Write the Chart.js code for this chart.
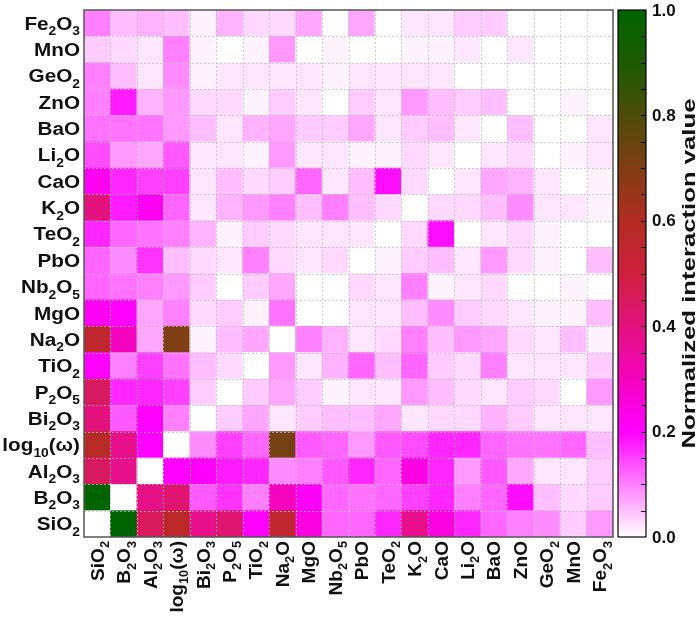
<!DOCTYPE html>
<html>
<head>
<meta charset="utf-8">
<script src="https://cdn.jsdelivr.net/npm/chart.js@4.4.0/dist/chart.umd.min.js"></script>
<style>
html, body { margin: 0; padding: 0; background: #fff; }
#wrap { width: 699px; height: 622px; }
</style>
</head>
<body>
<div id="wrap"><canvas id="heatChart"></canvas></div>
<script>
// oxide labels, same order on both axes (x: left to right, y: bottom to top)
const oxides = ['SiO2', 'B2O3', 'Al2O3', 'log10(ω)', 'Bi2O3', 'P2O5', 'TiO2', 'Na2O', 'MgO', 'Nb2O5',
    'PbO', 'TeO2', 'K2O', 'CaO', 'Li2O', 'BaO', 'ZnO', 'GeO2', 'MnO', 'Fe2O3'];

// one row per oxide, values in column order
const rowSiO2  = [0, 1.0, 0.45, 0.57, 0.38, 0.42, 0.2, 0.55, 0.25, 0.12, 0.12, 0.17, 0.38, 0.25, 0.17, 0.12, 0.1, 0.09, 0.04, 0.08];
const rowB2O3  = [1.0, 0, 0.39, 0.42, 0.13, 0.16, 0.1, 0.3, 0.21, 0.12, 0.11, 0.12, 0.15, 0.17, 0.1, 0.12, 0.19, 0.05, 0.03, 0.04];
const rowAl2O3 = [0.45, 0.38, 0, 0.2, 0.21, 0.18, 0.17, 0.09, 0.1, 0.13, 0.17, 0.12, 0.24, 0.17, 0.08, 0.13, 0.07, 0.02, 0.02, 0.04];
const rowLog   = [0.58, 0.38, 0.2, 0, 0.09, 0.15, 0.12, 0.72, 0.13, 0.12, 0.08, 0.13, 0.14, 0.17, 0.17, 0.12, 0.11, 0.11, 0.12, 0.05];
const rowBi2O3 = [0.4, 0.13, 0.2, 0.1, 0, 0.04, 0.07, 0.02, 0.04, 0.05, 0.05, 0.07, 0.02, 0.03, 0.03, 0.06, 0.04, 0.02, 0.02, 0.02];
const rowP2O5  = [0.45, 0.17, 0.17, 0.15, 0.04, 0, 0.04, 0.07, 0.04, 0.01, 0.02, 0.02, 0.08, 0.05, 0.03, 0.02, 0.04, 0.03, 0, 0.08];
const rowTiO2  = [0.2, 0.1, 0.15, 0.11, 0.05, 0.03, 0, 0.08, 0.02, 0.06, 0.12, 0.05, 0.12, 0.04, 0.03, 0.1, 0.02, 0.02, 0.02, 0.04];
const rowNa2O  = [0.55, 0.3, 0.07, 0.7, 0.01, 0.05, 0.07, 0, 0.1, 0.06, 0.02, 0.03, 0.1, 0.05, 0.08, 0.07, 0.03, 0.02, 0.05, 0.01];
const rowMgO   = [0.22, 0.2, 0.07, 0.1, 0.03, 0.04, 0.01, 0.11, 0, 0, 0.02, 0.02, 0.05, 0.09, 0.04, 0.03, 0.02, 0.01, 0.01, 0.05];
const rowNb2O5 = [0.12, 0.11, 0.1, 0.08, 0.04, 0, 0.04, 0.07, 0, 0, 0.03, 0.02, 0.1, 0.01, 0.02, 0.03, 0, 0, 0.01, 0];
const rowPbO   = [0.12, 0.09, 0.16, 0.05, 0.03, 0.02, 0.1, 0.03, 0.02, 0.03, 0, 0.01, 0.04, 0.05, 0.02, 0.08, 0.03, 0.01, 0, 0.05];
const rowTeO2  = [0.17, 0.12, 0.11, 0.1, 0.06, 0.01, 0.04, 0.03, 0.02, 0.02, 0.02, 0, 0.03, 0.19, 0, 0.02, 0.03, 0.01, 0, 0];
const rowK2O   = [0.4, 0.18, 0.22, 0.12, 0.02, 0.06, 0.08, 0.1, 0.05, 0.1, 0.05, 0.03, 0, 0.03, 0.03, 0.05, 0.09, 0.02, 0.02, 0.01];
const rowCaO   = [0.22, 0.17, 0.15, 0.15, 0.02, 0.05, 0.03, 0.04, 0.12, 0.02, 0.05, 0.19, 0.03, 0, 0.02, 0.07, 0.06, 0.02, 0, 0.01];
const rowLi2O  = [0.14, 0.08, 0.07, 0.13, 0.02, 0.02, 0.01, 0.08, 0.02, 0.02, 0.01, 0.01, 0.03, 0.02, 0, 0.02, 0.03, 0, 0.01, 0.02];
const rowBaO   = [0.11, 0.11, 0.11, 0.08, 0.05, 0.02, 0.06, 0.07, 0.04, 0.04, 0.07, 0.02, 0.04, 0.05, 0.02, 0, 0.05, 0, 0, 0.02];
const rowZnO   = [0.1, 0.18, 0.06, 0.08, 0.03, 0.03, 0.01, 0.04, 0.02, 0, 0.04, 0.02, 0.08, 0.05, 0.04, 0.05, 0, 0, 0.01, 0];
const rowGeO2  = [0.1, 0.05, 0.02, 0.09, 0.01, 0.02, 0.02, 0.02, 0.02, 0.01, 0.02, 0.02, 0.02, 0.02, 0, 0, 0, 0, 0, 0];
const rowMnO   = [0.04, 0.03, 0.02, 0.1, 0.01, 0, 0.01, 0.08, 0, 0.01, 0, 0, 0.01, 0.01, 0.02, 0, 0.02, 0, 0, 0];
const rowFe2O3 = [0.1, 0.05, 0.06, 0.05, 0.01, 0.06, 0.03, 0.03, 0.07, 0, 0.07, 0, 0.02, 0.02, 0.04, 0.04, 0, 0, 0, 0];

// bottom to top, matching oxides
const rows = [rowSiO2, rowB2O3, rowAl2O3, rowLog, rowBi2O3, rowP2O5, rowTiO2, rowNa2O, rowMgO, rowNb2O5,
    rowPbO, rowTeO2, rowK2O, rowCaO, rowLi2O, rowBaO, rowZnO, rowGeO2, rowMnO, rowFe2O3];

const colorbarTicks = [0, 0.2, 0.4, 0.6, 0.8, 1.0];
const colorbarTitle = 'Normalized interaction value';

// white -> magenta -> crimson -> brown -> dark green
const cmap = [
    [0.0, [255, 255, 255]],
    [0.2, [255, 0, 255]],
    [0.3, [244, 4, 190]],
    [0.4, [228, 18, 125]],
    [0.5, [205, 32, 62]],
    [0.6, [178, 44, 34]],
    [0.7, [128, 62, 20]],
    [0.8, [76, 76, 10]],
    [0.9, [30, 90, 4]],
    [1.0, [0, 100, 0]]
];

function colorFor(v) {
    for (let i = 1; i < cmap.length; i++) {
        const [v1, c1] = cmap[i];
        const [v0, c0] = cmap[i - 1];
        if (v <= v1) {
            const t = (v - v0) / (v1 - v0);
            const c = c0.map((a, k) => Math.round(a + (c1[k] - a) * t));
            return `rgb(${c[0]},${c[1]},${c[2]})`;
        }
    }
    return 'rgb(0,100,0)';
}

const FONT = '"Liberation Sans", Arial, sans-serif';

// draws a label with every digit run set as a subscript; stretch widens it along the text
function drawChem(ctx, text, x, y, align, size, stretch) {
    const parts = text.match(/\d+|\D+/g);
    const sub = Math.round(size * 0.68);
    const widths = parts.map(p => {
        ctx.font = `bold ${/\d/.test(p) ? sub : size}px ${FONT}`;
        return ctx.measureText(p).width;
    });
    const total = widths.reduce((a, b) => a + b, 0) * stretch;
    let cx = align === 'right' ? x - total : (align === 'center' ? x - total / 2 : x);
    ctx.save();
    ctx.translate(cx, y);
    ctx.scale(stretch, 1);
    ctx.textAlign = 'left';
    ctx.textBaseline = 'alphabetic';
    let px = 0;
    parts.forEach((p, i) => {
        const isSub = /\d/.test(p);
        ctx.font = `bold ${isSub ? sub : size}px ${FONT}`;
        ctx.fillText(p, px, size * 0.36 + (isSub ? size * 0.3 : 0));
        px += widths[i];
    });
    ctx.restore();
}

const heatDecor = {
    id: 'heatDecor',
    afterDatasetsDraw(chart) {
        const { ctx, chartArea: a, scales } = chart;
        const x = scales.x, y = scales.y;
        ctx.save();
        ctx.strokeStyle = 'rgba(190,190,190,0.75)';
        ctx.lineWidth = 1;
        ctx.setLineDash([2, 2]);
        for (let i = 1; i < oxides.length; i++) {
            const px = Math.round((x.getPixelForValue(i - 1) + x.getPixelForValue(i)) / 2) + 0.5;
            ctx.beginPath(); ctx.moveTo(px, a.top); ctx.lineTo(px, a.bottom); ctx.stroke();
            const py = Math.round(y.getPixelForValue(i)) + 0.5;
            ctx.beginPath(); ctx.moveTo(a.left, py); ctx.lineTo(a.right, py); ctx.stroke();
        }
        ctx.restore();
    },
    afterDraw(chart) {
        const { ctx, chartArea: a, scales } = chart;
        const x = scales.x, y = scales.y, cb = scales.cb;
        ctx.save();
        // plot frame
        ctx.strokeStyle = '#555';
        ctx.lineWidth = 1.5;
        ctx.strokeRect(a.left, a.top, a.right - a.left, a.bottom - a.top);

        ctx.fillStyle = '#111';
        // y labels
        oxides.forEach((name, i) => {
            drawChem(ctx, name, a.left - 4, y.getPixelForValue(i + 0.5), 'right', 18, 1.15);
        });
        // x labels, rotated
        oxides.forEach((name, i) => {
            ctx.save();
            ctx.translate(x.getPixelForValue(i), a.bottom + 4);
            ctx.rotate(-Math.PI / 2);
            drawChem(ctx, name, 0, 0, 'right', 18, 1.06);
            ctx.restore();
        });

        // colour bar
        const bx = a.right + 5, bw = 28;
        const top = cb.getPixelForValue(1), bot = cb.getPixelForValue(0);
        const grad = ctx.createLinearGradient(0, bot, 0, top);
        cmap.forEach(([v, c]) => grad.addColorStop(v, `rgb(${c[0]},${c[1]},${c[2]})`));
        ctx.fillStyle = grad;
        ctx.fillRect(bx, top, bw, bot - top);
        ctx.strokeStyle = '#000';
        ctx.lineWidth = 1.2;
        ctx.strokeRect(bx, top, bw, bot - top);
        ctx.lineWidth = 1;
        for (let k = 1; k < 20; k++) {
            const py = Math.round(cb.getPixelForValue(k / 20)) + 0.5;
            ctx.beginPath(); ctx.moveTo(bx + bw, py); ctx.lineTo(bx + bw - 5, py); ctx.stroke();
        }
        // colour bar tick labels
        ctx.fillStyle = '#111';
        ctx.font = `bold 17px ${FONT}`;
        ctx.textAlign = 'left';
        ctx.textBaseline = 'middle';
        colorbarTicks.forEach(v => {
            ctx.fillText(v.toFixed(1), bx + bw + 6, cb.getPixelForValue(v) + 1);
        });
        // colour bar title, stretched along its length like the original
        ctx.translate(690, (top + bot) / 2);
        ctx.rotate(-Math.PI / 2);
        ctx.font = `bold 18px ${FONT}`;
        const tw = ctx.measureText(colorbarTitle).width;
        ctx.scale(350 / tw, 1);
        ctx.textAlign = 'center';
        ctx.fillText(colorbarTitle, 0, 0);
        ctx.restore();
    }
};

const datasets = rows.map((vals, i) => ({
    label: oxides[i],
    data: vals.map(() => [i, i + 1]),
    backgroundColor: vals.map(colorFor),
    borderWidth: 0,
    barPercentage: 1,
    categoryPercentage: 1,
    grouped: false
}));

new Chart(document.getElementById('heatChart'), {
    type: 'bar',
    data: { labels: oxides, datasets: datasets },
    options: {
        responsive: true,
        maintainAspectRatio: false,
        animation: false,
        layout: { padding: { left: 84, top: 10, bottom: 85, right: 0 } },
        plugins: {
            legend: { display: false },
            tooltip: { enabled: false }
        },
        scales: {
            x: {
                offset: true,
                grid: { display: false },
                border: { display: false },
                ticks: { display: false },
                afterFit: s => { s.height = 0; }
            },
            y: {
                type: 'linear',
                min: 0,
                max: 20,
                grid: { display: false },
                border: { display: false },
                ticks: { display: false },
                afterFit: s => { s.width = 0; }
            },
            cb: {
                type: 'linear',
                position: 'right',
                min: 0,
                max: 1,
                grid: { display: false, drawTicks: false },
                border: { display: false },
                afterBuildTicks: s => { s.ticks = colorbarTicks.map(v => ({ value: v })); },
                ticks: { display: false },
                afterFit: s => { s.width = 86; }
            }
        }
    },
    plugins: [heatDecor]
});
</script>
</body>
</html>
